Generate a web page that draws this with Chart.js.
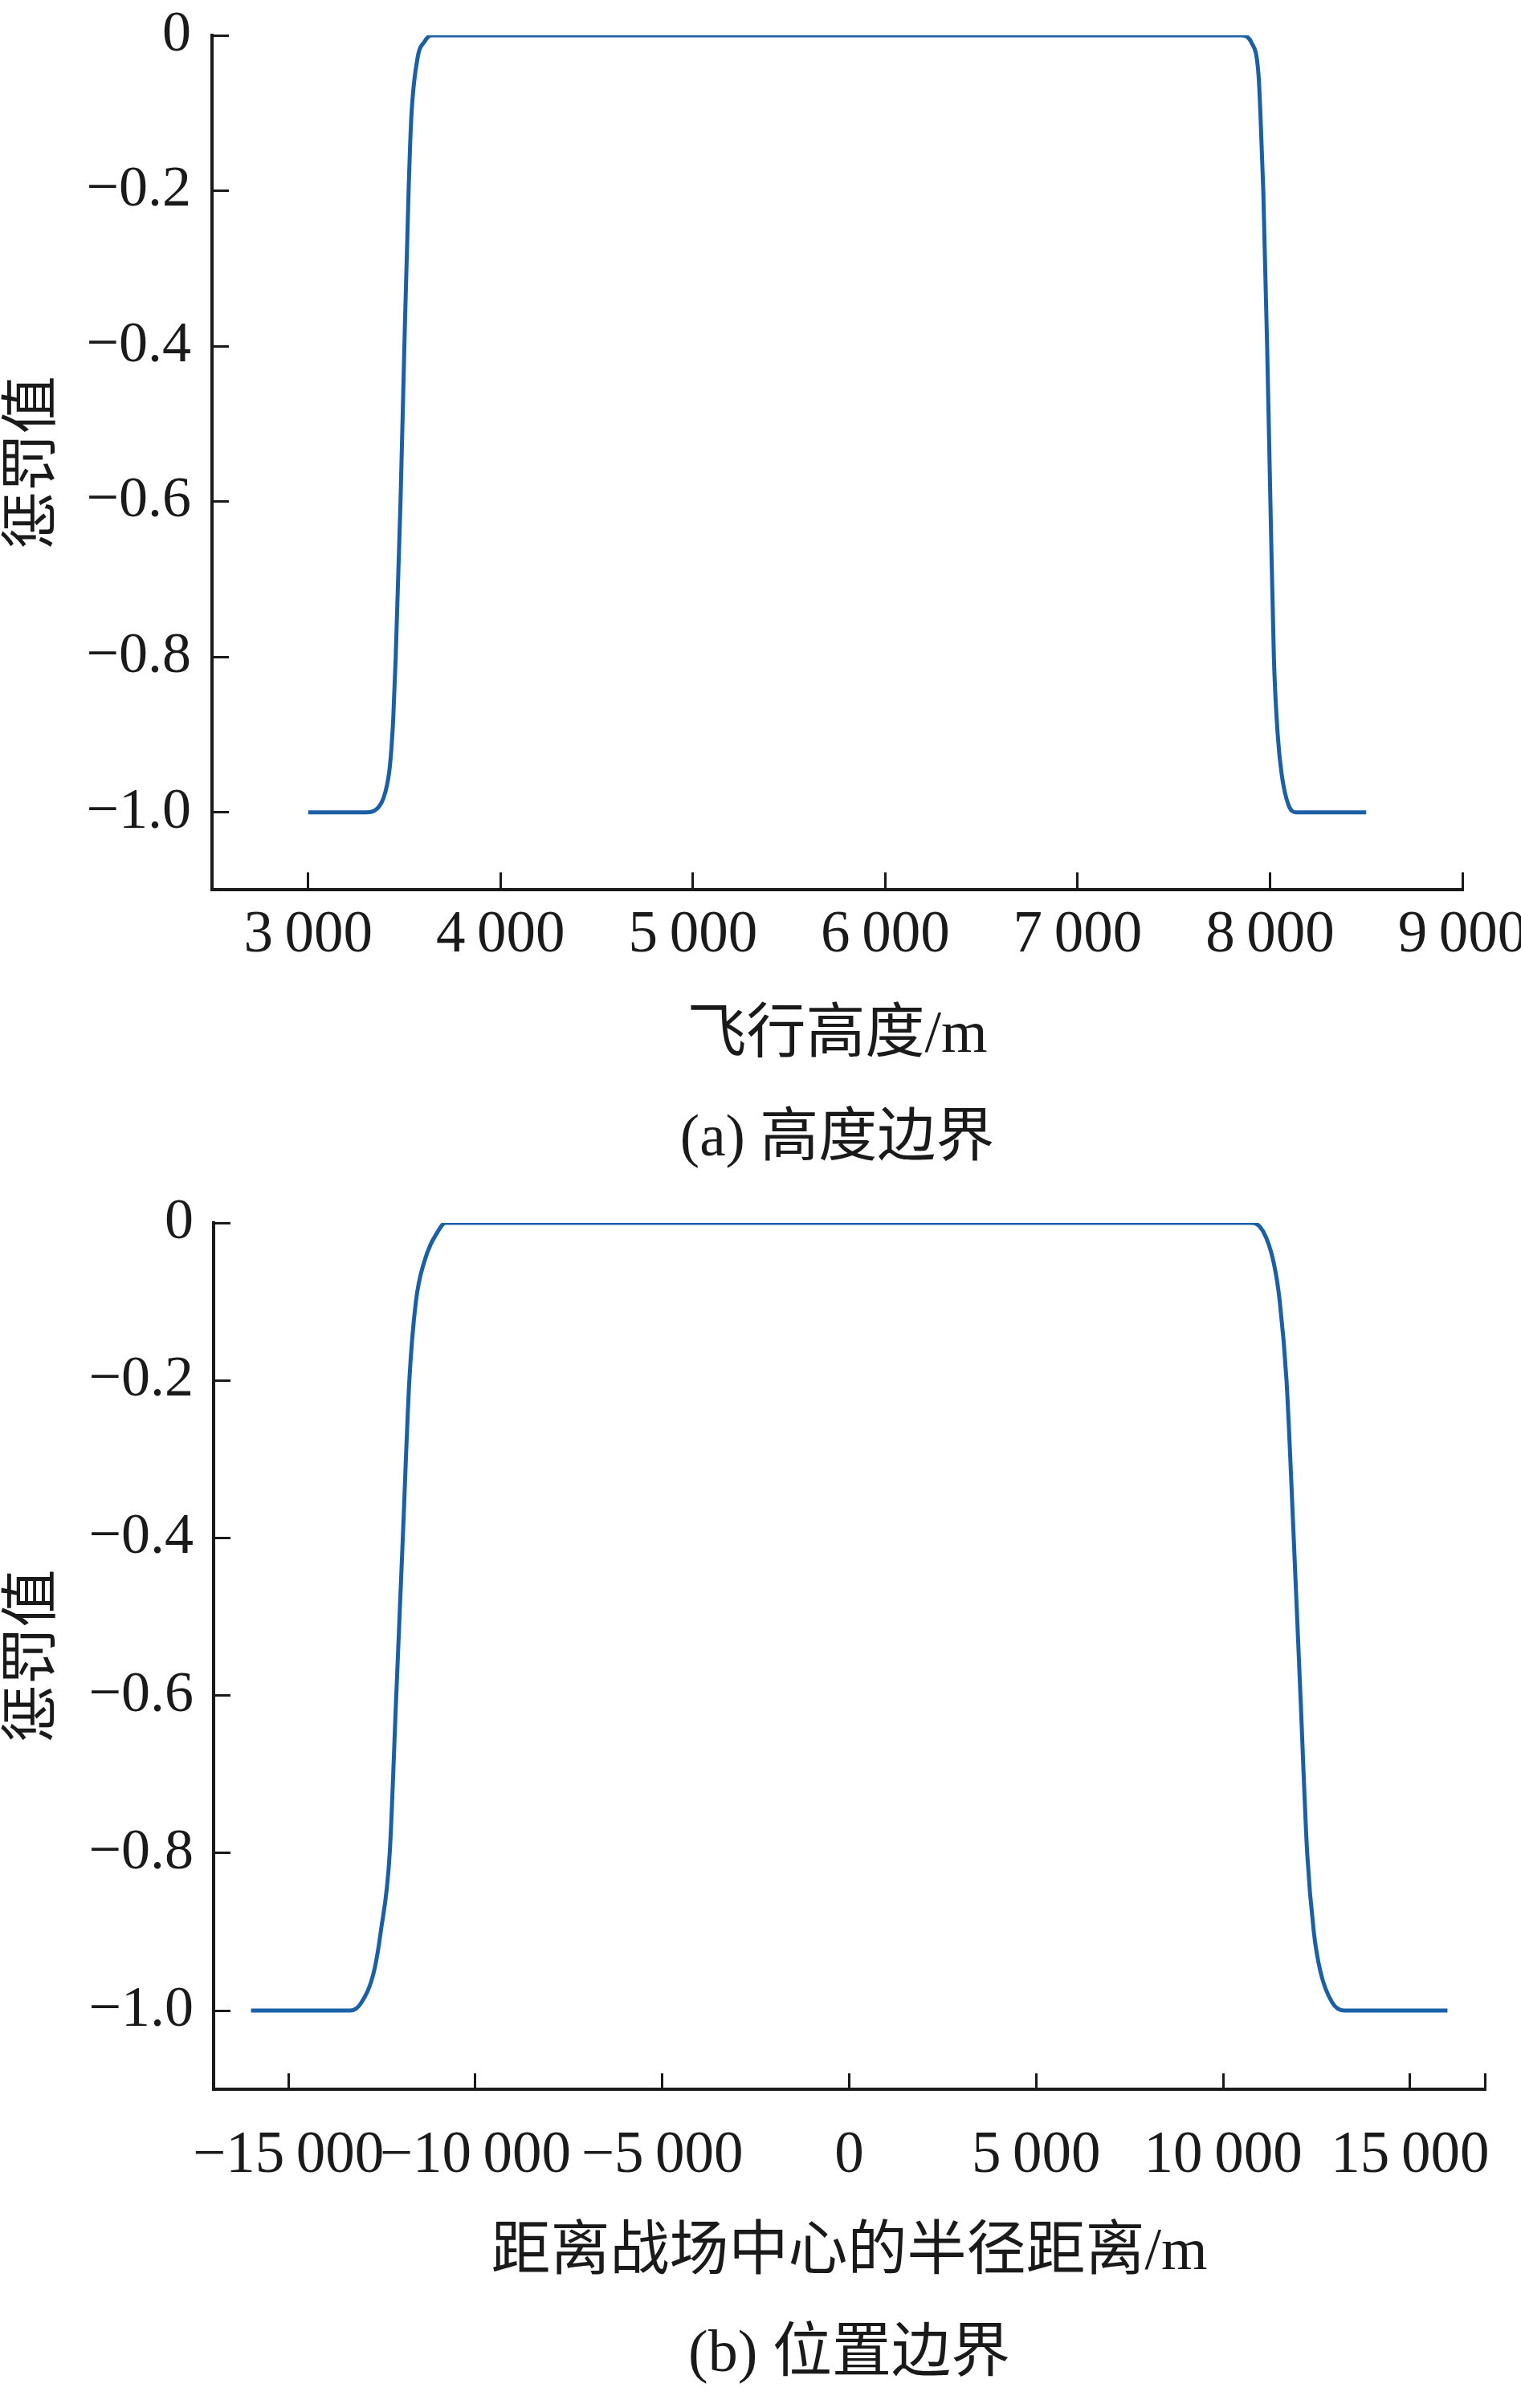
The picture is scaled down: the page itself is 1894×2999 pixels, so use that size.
<!DOCTYPE html>
<html>
<head>
<meta charset="utf-8">
<script src="https://cdn.jsdelivr.net/npm/chart.js@4.4.1/dist/chart.umd.min.js"></script>
<style>
  html, body { margin: 0; padding: 0; background: #fff; }
  .panel { position: absolute; left: 0; width: 1894px; }
  #panelA { top: 0; height: 1480px; }
  #panelB { top: 1480px; height: 1519px; }
</style>
</head>
<body>
<div class="panel" id="panelA"><canvas id="altChart" width="1894" height="1480"></canvas></div>
<div class="panel" id="panelB"><canvas id="posChart" width="1894" height="1519"></canvas></div>
<script>
// --- (a) altitude boundary: penalty vs flight altitude ---
const altX = [3000, 3300, 3360, 3400, 3425, 3442, 3455, 3480, 3500, 3522, 3536, 3568, 3605, 3640, 3700,
              7800, 7850, 7905, 7940, 7950, 7965, 7985, 8002, 8020, 8040, 8060, 8095, 8135, 8200, 8500];
const altY = [-1, -1, -0.995, -0.975, -0.94, -0.88, -0.8, -0.6, -0.4, -0.2, -0.106, -0.03, -0.008, 0, 0,
              0, 0, -0.01, -0.05, -0.1, -0.2, -0.4, -0.6, -0.8, -0.9, -0.95, -0.99, -1, -1, -1];
const altTicks = [3000, 4000, 5000, 6000, 7000, 8000, 9000];

// --- (b) position boundary: penalty vs radial distance from battlefield centre ---
const posX = [-16000, -13600, -13340, -13050, -12710, -12530, -12290, -12115, -11940, -11765, -11590, -11370, -10990, -10800, -10500,
              10500, 10740, 11060, 11350, 11515, 11695, 11888, 12068, 12248, 12425, 12600, 12920, 13240, 13500, 16000];
const posY = [-1, -1, -1, -0.99, -0.95, -0.9, -0.8, -0.6, -0.4, -0.2, -0.1, -0.05, -0.01, 0, 0,
              0, 0, -0.01, -0.05, -0.1, -0.2, -0.4, -0.6, -0.8, -0.9, -0.95, -0.99, -1, -1, -1];
const posTicks = [-15000, -10000, -5000, 0, 5000, 10000, 15000];

const penaltyTicks = [0, -0.2, -0.4, -0.6, -0.8, -1.0];

const SERIF = "'Liberation Serif', 'Times New Roman', 'Noto Sans CJK SC', serif";
const INK = '#1a1a1a';
const LINE = '#1b5fa6';

function fmtThousands(v) {
    const s = Math.abs(v).toString().replace(/\B(?=(\d{3})+(?!\d))/g, '\u2009');
    return (v < 0 ? '\u2212' : '') + s;
}

function fmtPenalty(v) {
    return v === 0 ? '0' : '\u2212' + Math.abs(v).toFixed(1);
}

function makeChart(id, o) {
    const ctx = document.getElementById(id).getContext('2d');
    return new Chart(ctx, {
        type: 'line',
        data: {
            datasets: [{
                data: o.xs.map((x, i) => ({ x: x, y: o.ys[i] })),
                borderColor: LINE,
                borderWidth: 5,
                pointRadius: 0,
                fill: false,
                cubicInterpolationMode: 'monotone'
            }]
        },
        options: {
            responsive: false,
            animation: false,
            devicePixelRatio: 1,
            layout: { padding: o.padding },
            plugins: {
                legend: { display: false },
                tooltip: { enabled: false },
                title: {
                    display: true,
                    position: 'bottom',
                    fullSize: false,
                    text: o.caption,
                    color: INK,
                    font: { family: SERIF, size: o.captionSize, weight: 'normal' },
                    padding: { top: o.captionPad, bottom: 0 }
                }
            },
            scales: {
                x: {
                    type: 'linear',
                    min: o.xMin,
                    max: o.xMax,
                    border: { display: true, color: INK, width: 4 },
                    grid: { display: true, drawOnChartArea: false, drawTicks: true, tickLength: -o.xTickLen, tickWidth: 3, tickColor: INK },
                    ticks: {
                        autoSkip: false,
                        maxRotation: 0,
                        minRotation: 0,
                        padding: o.xLabelPad,
                        color: INK,
                        font: { family: SERIF, size: 73 },
                        callback: v => o.xTicks.includes(v) ? fmtThousands(v) : ''
                    },
                    afterBuildTicks: s => {
                        s.ticks = o.xTicks.concat(o.extraTicks).map(v => ({ value: v }));
                    },
                    afterFit: s => {
                        s.height = o.xHeight;
                        s.paddingLeft = 0; s.paddingRight = 0;
                    },
                    title: {
                        display: true,
                        text: o.xTitle,
                        color: INK,
                        font: { family: SERIF, size: 74 },
                        padding: 0
                    }
                },
                y: {
                    type: 'linear',
                    min: -1.1,
                    max: 0,
                    border: { display: true, color: INK, width: 4 },
                    grid: { display: true, drawOnChartArea: false, drawTicks: true, tickLength: -21, tickWidth: 3, tickColor: INK },
                    ticks: {
                        padding: o.yLabelPad,
                        color: INK,
                        font: { family: SERIF, size: 72 },
                        callback: v => fmtPenalty(v)
                    },
                    afterBuildTicks: s => {
                        s.ticks = penaltyTicks.map(v => ({ value: v }));
                    },
                    afterFit: s => {
                        s.width = o.yWidth;
                        s.paddingTop = 0; s.paddingBottom = 0;
                    },
                    title: {
                        display: true,
                        text: '惩罚值',
                        color: INK,
                        font: { family: SERIF, size: 72 },
                        padding: 0
                    }
                }
            }
        }
    });
}

makeChart('altChart', {
    xs: altX, ys: altY,
    xMin: 2500, xMax: 9000,
    xTicks: altTicks, extraTicks: [],
    xTitle: '飞行高度/m',
    caption: '(a) 高度边界',
    padding: { top: 44, left: 0, right: 73, bottom: 16 },
    yWidth: 264, xHeight: 227,
    xTickLen: 22, xLabelPad: 36, yLabelPad: 47,
    captionSize: 73, captionPad: 41
});

makeChart('posChart', {
    xs: posX, ys: posY,
    xMin: -17000, xMax: 17000,
    xTicks: posTicks, extraTicks: [17000],
    xTitle: '距离战场中心的半径距离/m',
    caption: '(b) 位置边界',
    padding: { top: 43, left: 0, right: 45, bottom: 21 },
    yWidth: 266, xHeight: 249,
    xTickLen: 20, xLabelPad: 60, yLabelPad: 46,
    captionSize: 74, captionPad: 38
});
</script>
</body>
</html>
